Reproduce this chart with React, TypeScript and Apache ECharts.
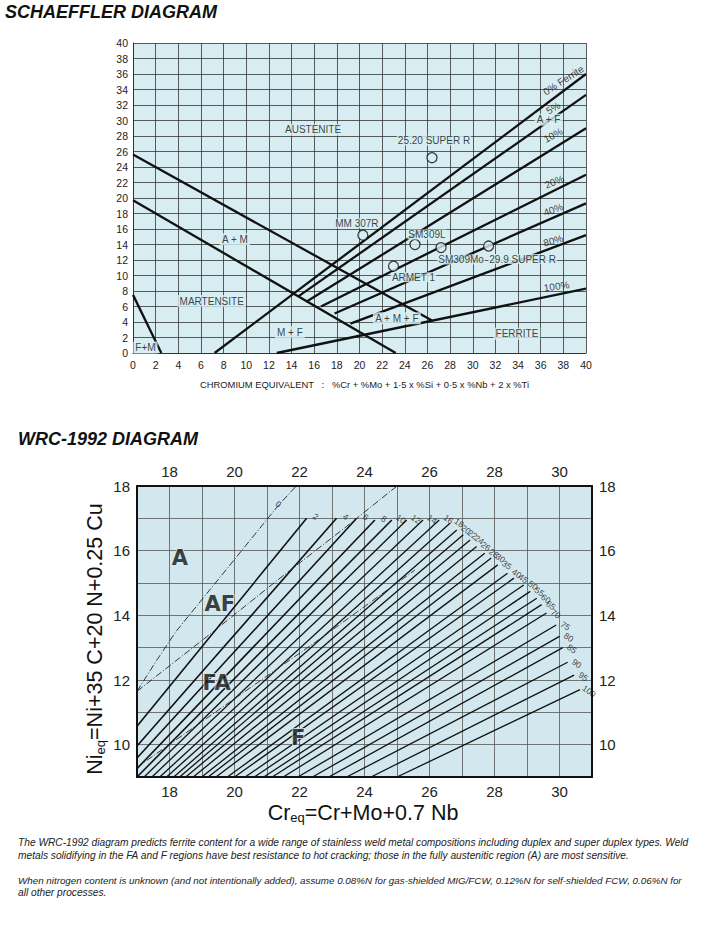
import React, { useEffect, useRef } from "react";
import * as echarts from "echarts";

// ---------------- Schaeffler diagram data ----------------
const sFerriteNames = ["0%", "5%", "10%", "20%", "40%", "80%", "100%"];
const sFerriteStartCr = [7.2, 14.6, 15.3, 16.6, 17.8, 19.2, 12.7];
const sFerriteStartNi = [0, 7.3, 6.6, 6.0, 5.1, 3.8, 0];
const sFerriteEndCr = [40, 40, 40, 40, 40, 40, 40];
const sFerriteEndNi = [36.0, 33.3, 29.0, 23.0, 19.3, 15.2, 8.3];
const sFerriteLabels = ["0% Ferrite", "5%", "10%", "20%", "40%", "80%", "100%"];
const sFerriteLabelCr = [38.0, 37.1, 37.1, 37.2, 37.1, 37.1, 37.4];
const sFerriteLabelNi = [35.2, 31.6, 28.1, 22.1, 18.5, 14.5, 8.6];

const sBoundaryStartCr = [0, 0, 0];
const sBoundaryStartNi = [25.6, 19.7, 7.5];
const sBoundaryEndCr = [26.4, 23.2, 2.5];
const sBoundaryEndNi = [4.2, 0, 0];

const sRegionNames = ["AUSTENITE", "A + M", "MARTENSITE", "M + F", "F+M", "A + M + F", "FERRITE", "A + F"];
const sRegionCr = [15.9, 9.0, 6.95, 13.85, 1.1, 23.3, 33.9, 36.7];
const sRegionNi = [28.8, 14.7, 6.7, 2.7, 0.7, 4.5, 2.5, 30.1];

const sPointNames = ["25.20 SUPER R", "MM 307R", "SM309L", "SM309Mo", "29.9 SUPER R", "ARMET 1"];
const sPointCr = [26.4, 20.3, 24.9, 27.2, 31.4, 23.0];
const sPointNi = [25.2, 15.2, 14.0, 13.6, 13.8, 11.2];

// ---------------- WRC-1992 diagram data ----------------
const wFN = [2, 4, 6, 8, 10, 12, 14, 16, 18, 20, 22, 24, 26, 28, 30, 35, 40, 45, 50, 55, 60, 65, 70, 75, 80, 85, 90, 95, 100];
const wTopCr = [22.22, 23.14, 23.76, 24.32, 24.84, 25.3, 25.8, 26.3, 26.63, 26.84, 27.04, 27.25, 27.45, 27.7, 27.9, 28.1, 28.4, 28.6, 28.9, 29.1, 29.3, 29.45, 29.6, 29.9, 30.0, 30.1, 30.25, 30.45, 30.63];
const wTopNi = [17.0, 17.0, 17.0, 16.95, 16.95, 16.95, 16.95, 16.95, 16.85, 16.64, 16.49, 16.33, 16.13, 15.92, 15.77, 15.56, 15.3, 15.15, 14.94, 14.74, 14.53, 14.33, 14.07, 13.7, 13.35, 13.0, 12.55, 12.15, 11.7];
const wBottomCr = [17, 17, 17, 17, 17.0, 17.22, 17.46, 17.7, 17.91, 18.13, 18.31, 18.5, 18.73, 18.99, 19.19, 19.43, 19.78, 20.0, 20.33, 20.61, 20.9, 21.16, 21.5, 21.95, 22.4, 22.9, 23.45, 24.2, 25.0];
const wBottomNi = [10.57, 9.96, 9.59, 9.26, 9, 9, 9, 9, 9, 9, 9, 9, 9, 9, 9, 9, 9, 9, 9, 9, 9, 9, 9, 9, 9, 9, 9, 9, 9];

// solidification-mode boundaries (dash-dot)
const wBoundaryAAF_Cr = [17.0, 17.6, 18.2, 21.35, 21.9];
const wBoundaryAAF_Ni = [11.65, 12.6, 13.5, 17.4, 18.0];
const wBoundaryAFFA_Cr = [17.0, 19.35, 21.4, 23.45, 25.0];
const wBoundaryAFFA_Ni = [11.65, 13.5, 15.15, 16.75, 18.0];
const wBoundaryFAF_Cr = [17.0, 19.9, 22.6, 25.55];
const wBoundaryFAF_Ni = [9.3, 11.35, 13.25, 15.4];
const wZeroLabelCr = 21.35;
const wZeroLabelNi = 17.44;

const wRegionNames = ["A", "AF", "FA", "F"];
const wRegionCr = [18.32, 19.55, 19.45, 21.96];
const wRegionNi = [15.78, 14.34, 11.9, 10.21];

const paragraphLines = [
  "The WRC-1992 diagram predicts ferrite content for a wide range of stainless weld metal compositions including duplex and super duplex types. Weld",
  "metals solidifying in the FA and F regions have best resistance to hot cracking; those in the fully austenitic region (A) are most sensitive.",
  "When nitrogen content is unknown (and not intentionally added), assume 0.08%N for gas-shielded MIG/FCW, 0.12%N for self-shielded FCW, 0.06%N for",
  "all other processes.",
];

const FONT = "'Liberation Sans', Arial, sans-serif";
const S_BG = "#d7edf2";
const W_BG = "#d3e8ee";

function zip(xs: number[], ys: number[]) {
  return xs.map((x, i) => [x, ys[i]]);
}

export default function App() {
  const ref = useRef<HTMLDivElement>(null);

  useEffect(() => {
    if (!ref.current) return;
    const chart = echarts.init(ref.current, undefined, { renderer: "svg" });

    // pixel scale of the grids (for label angles)
    const sKx = 453 / 40;
    const sKy = 310 / 40;
    const wK = 455 / 14;
    const wKy = 291 / 9;

    const pointOffsets = [
      [2, -17],
      [-6, -12],
      [12, -10],
      [20, 12],
      [34, 13],
      [20, 11],
    ];

    const series: any[] = [];

    // Schaeffler boundaries
    sBoundaryStartCr.forEach((_, i) => {
      series.push({
        type: "line",
        xAxisIndex: 0,
        yAxisIndex: 0,
        data: [
          [sBoundaryStartCr[i], sBoundaryStartNi[i]],
          [sBoundaryEndCr[i], sBoundaryEndNi[i]],
        ],
        symbol: "none",
        silent: true,
        z: 3,
        lineStyle: { color: "#111", width: 2.3 },
      });
    });
    // Schaeffler iso-ferrite lines
    sFerriteNames.forEach((n, i) => {
      series.push({
        type: "line",
        name: n,
        xAxisIndex: 0,
        yAxisIndex: 0,
        data: [
          [sFerriteStartCr[i], sFerriteStartNi[i]],
          [sFerriteEndCr[i], sFerriteEndNi[i]],
        ],
        symbol: "none",
        silent: true,
        z: 3,
        lineStyle: { color: "#111", width: 2.3 },
      });
    });
    // ferrite % labels
    series.push({
      type: "scatter",
      xAxisIndex: 0,
      yAxisIndex: 0,
      symbolSize: 1,
      itemStyle: { color: "rgba(0,0,0,0)" },
      silent: true,
      z: 6,
      data: sFerriteLabels.map((t, i) => {
        const slope = (sFerriteEndNi[i] - sFerriteStartNi[i]) / (sFerriteEndCr[i] - sFerriteStartCr[i]);
        const ang = (Math.atan((slope * sKy) / sKx) * 180) / Math.PI;
        return {
          name: t,
          value: [sFerriteLabelCr[i], sFerriteLabelNi[i]],
          label: { rotate: ang - 4 },
        };
      }),
      label: {
        show: true,
        position: "inside",
        formatter: "{b}",
        fontSize: 10,
        color: "#111",
        fontFamily: FONT,
      },
    });
    // region labels
    series.push({
      type: "scatter",
      xAxisIndex: 0,
      yAxisIndex: 0,
      symbolSize: 1,
      itemStyle: { color: "rgba(0,0,0,0)" },
      silent: true,
      z: 6,
      data: sRegionNames.map((t, i) => ({ name: t, value: [sRegionCr[i], sRegionNi[i]] })),
      label: {
        show: true,
        position: "inside",
        formatter: "{b}",
        fontSize: 10,
        color: "#111",
        fontFamily: FONT,
        backgroundColor: S_BG,
        padding: [1, 2],
      },
    });
    // electrode points
    series.push({
      type: "scatter",
      xAxisIndex: 0,
      yAxisIndex: 0,
      symbol: "circle",
      symbolSize: 10,
      silent: true,
      z: 7,
      itemStyle: { color: S_BG, borderColor: "#111", borderWidth: 1.3 },
      data: sPointNames.map((t, i) => ({
        name: t,
        value: [sPointCr[i], sPointNi[i]],
        label: { offset: pointOffsets[i] },
      })),
      label: {
        show: true,
        position: "inside",
        formatter: "{b}",
        fontSize: 10,
        color: "#111",
        fontFamily: FONT,
        backgroundColor: S_BG,
        padding: [0, 1],
      },
    });

    // WRC iso-FN lines
    wFN.forEach((fn, i) => {
      series.push({
        type: "line",
        name: "FN " + fn,
        xAxisIndex: 1,
        yAxisIndex: 1,
        data: [
          [wBottomCr[i], wBottomNi[i]],
          [wTopCr[i], wTopNi[i]],
        ],
        symbol: "none",
        silent: true,
        z: 3,
        lineStyle: { color: "#111", width: i < 5 ? 1.6 : 1.3 },
      });
    });
    // WRC dash-dot boundaries
    [
      zip(wBoundaryAAF_Cr, wBoundaryAAF_Ni),
      zip(wBoundaryAFFA_Cr, wBoundaryAFFA_Ni),
      zip(wBoundaryFAF_Cr, wBoundaryFAF_Ni),
    ].forEach((d) => {
      series.push({
        type: "line",
        xAxisIndex: 1,
        yAxisIndex: 1,
        data: d,
        symbol: "none",
        silent: true,
        z: 3,
        lineStyle: { color: "#222", width: 0.9, type: [7, 2, 1, 2] },
      });
    });
    // FN labels
    series.push({
      type: "scatter",
      xAxisIndex: 1,
      yAxisIndex: 1,
      symbolSize: 1,
      itemStyle: { color: "rgba(0,0,0,0)" },
      silent: true,
      z: 6,
      data: [
        { name: "0", value: [wZeroLabelCr, wZeroLabelNi], label: { offset: [0, 0] } },
        ...wFN.map((fn, i) => {
          const slope = (wTopNi[i] - wBottomNi[i]) / (wTopCr[i] - wBottomCr[i]);
          const a = Math.atan((slope * wKy) / wK);
          return {
            name: String(fn),
            value: [wTopCr[i], wTopNi[i]],
            label: { offset: [Math.cos(a) * 7 + 2, -Math.sin(a) * 7 - 1] },
          };
        }),
      ],
      label: {
        show: true,
        position: "inside",
        formatter: "{b}",
        fontSize: 8.5,
        rotate: -35,
        color: "#111",
        fontFamily: FONT,
      },
    });
    // WRC region labels
    series.push({
      type: "scatter",
      xAxisIndex: 1,
      yAxisIndex: 1,
      symbolSize: 1,
      itemStyle: { color: "rgba(0,0,0,0)" },
      silent: true,
      z: 7,
      data: wRegionNames.map((t, i) => ({ name: t, value: [wRegionCr[i], wRegionNi[i]] })),
      label: {
        show: true,
        position: "inside",
        formatter: "{b}",
        fontSize: 21,
        fontWeight: 900,
        color: "#111",
        fontFamily: "'DejaVu Sans', sans-serif",
        textBorderColor: W_BG,
        textBorderWidth: 2,
      },
    });

    const evenFmt = (v: number) => (Math.round(v) % 2 === 0 ? String(Math.round(v)) : "");

    const wAxisCommon = {
      type: "value",
      gridIndex: 1,
      interval: 1,
      axisLine: { show: true, onZero: false, lineStyle: { color: "#111", width: 2 } },
      axisTick: { show: false },
      axisLabel: { formatter: evenFmt, fontSize: 15, color: "#222", fontFamily: FONT, margin: 7 },
    };

    const option: any = {
      animation: false,
      backgroundColor: "#ffffff",
      textStyle: { fontFamily: FONT },
      grid: [
        { left: 133, top: 43, width: 453, height: 310, show: true, backgroundColor: S_BG, borderWidth: 0 },
        { left: 137, top: 486, width: 455, height: 291, show: true, backgroundColor: W_BG, borderWidth: 0 },
      ],
      xAxis: [
        {
          type: "value",
          gridIndex: 0,
          min: 0,
          max: 40,
          interval: 2,
          axisLine: { show: true, onZero: false, lineStyle: { color: "#333", width: 1 } },
          axisTick: { show: false },
          axisLabel: { fontSize: 10.5, color: "#222", margin: 6 },
          splitLine: { show: true, lineStyle: { color: "#333", width: 0.8 } },
        },
        {
          ...wAxisCommon,
          min: 17,
          max: 31,
          position: "bottom",
          splitLine: { show: true, lineStyle: { color: "#555", width: 0.8 } },
        },
        {
          ...wAxisCommon,
          min: 17,
          max: 31,
          position: "top",
          splitLine: { show: false },
        },
      ],
      yAxis: [
        {
          type: "value",
          gridIndex: 0,
          min: 0,
          max: 40,
          interval: 2,
          axisLine: { show: true, onZero: false, lineStyle: { color: "#333", width: 1 } },
          axisTick: { show: false },
          axisLabel: { fontSize: 10.5, color: "#222", margin: 5 },
          splitLine: { show: true, lineStyle: { color: "#333", width: 0.8 } },
        },
        {
          ...wAxisCommon,
          min: 9,
          max: 18,
          position: "left",
          splitLine: { show: true, lineStyle: { color: "#555", width: 0.8 } },
        },
        {
          ...wAxisCommon,
          min: 9,
          max: 18,
          position: "right",
          splitLine: { show: false },
        },
      ],
      series,
      graphic: [
        {
          type: "text",
          left: 5,
          top: 3,
          style: { text: "SCHAEFFLER DIAGRAM", fontSize: 18, fontWeight: "bold", fontStyle: "italic", fontFamily: FONT, fill: "#111" },
        },
        {
          type: "text",
          left: 200,
          top: 380,
          style: {
            text: "CHROMIUM EQUIVALENT   :   %Cr + %Mo + 1·5 x %Si + 0·5 x %Nb + 2 x %Ti",
            fontSize: 9.4,
            fontFamily: FONT,
            fill: "#222",
          },
        },
        {
          type: "text",
          left: 18,
          top: 430,
          style: { text: "WRC-1992 DIAGRAM", fontSize: 18, fontWeight: "bold", fontStyle: "italic", fontFamily: FONT, fill: "#111" },
        },
        {
          type: "text",
          x: 95,
          y: 639,
          rotation: Math.PI / 2,
          style: {
            text: "{n|Ni}{s|eq}{n|=Ni+35 C+20 N+0.25 Cu}",
            align: "center",
            verticalAlign: "middle",
            fill: "#111",
            rich: {
              n: { fontSize: 21.5, lineHeight: 24, fontFamily: FONT, fill: "#111" },
              s: { fontSize: 13, lineHeight: 11, verticalAlign: "bottom", fontFamily: FONT, fill: "#111" },
            },
          },
        },
        {
          type: "text",
          x: 363,
          y: 813,
          style: {
            text: "{n|Cr}{s|eq}{n|=Cr+Mo+0.7 Nb}",
            align: "center",
            verticalAlign: "middle",
            fill: "#111",
            rich: {
              n: { fontSize: 21.5, lineHeight: 22, fontFamily: FONT, fill: "#111" },
              s: { fontSize: 13, lineHeight: 10, verticalAlign: "bottom", fontFamily: FONT, fill: "#111" },
            },
          },
        },
        ...paragraphLines.map((t, i) => ({
          type: "text",
          left: 18,
          top: [837, 850, 875, 887][i],
          style: { text: t, fontSize: [10.2, 10.2, 9.8, 10.2][i], fontStyle: "italic", fontFamily: FONT, fill: "#222" },
        })),
      ],
    };

    chart.setOption(option);
    return () => chart.dispose();
  }, []);

  return (
    <div
      ref={ref}
      style={{ position: "absolute", left: 0, top: 0, width: 705, height: 946, background: "#fff" }}
    />
  );
}
